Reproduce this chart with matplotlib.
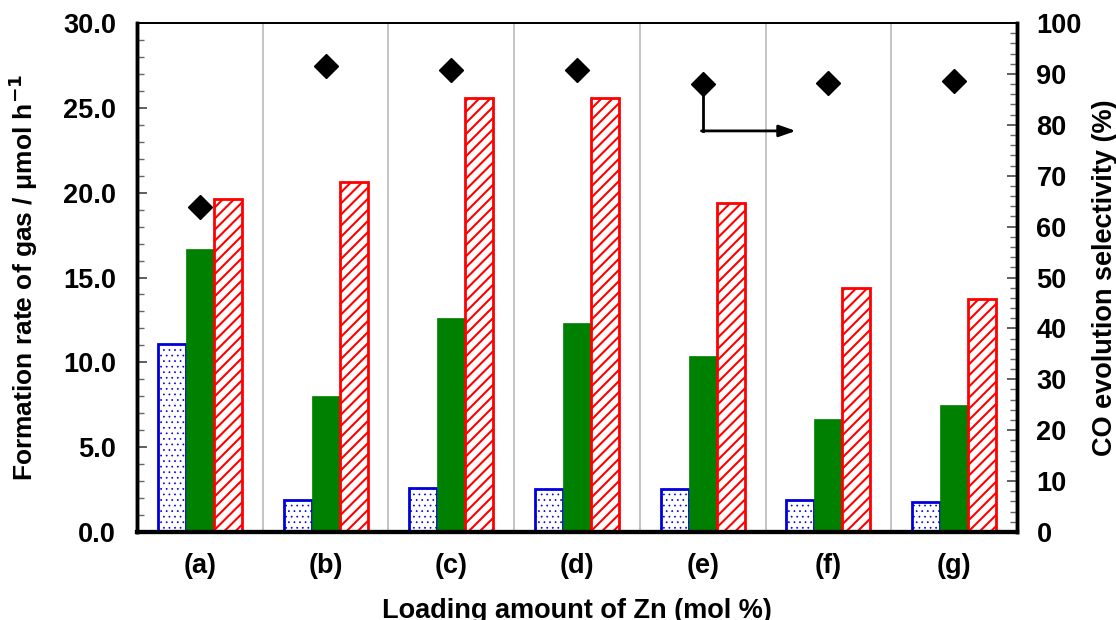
import matplotlib
matplotlib.use("Agg")
import matplotlib.pyplot as plt
from matplotlib.ticker import MultipleLocator, FormatStrFormatter
import numpy as np

plt.rcParams['font.family'] = ['Liberation Sans', 'DejaVu Sans']
plt.rcParams['font.weight'] = 'bold'

categories = ['(a)', '(b)', '(c)', '(d)', '(e)', '(f)', '(g)']
h2_rate = [11.1, 1.9, 2.6, 2.55, 2.55, 1.9, 1.75]
co_rate = [16.7, 8.0, 12.6, 12.3, 10.4, 6.65, 7.5]
o2_rate = [19.65, 20.6, 25.6, 25.6, 19.4, 14.4, 13.75]
co_selectivity = [63.9, 91.6, 90.7, 90.7, 88.1, 88.3, 88.7]

fig = plt.figure(figsize=(11.16, 6.2), dpi=100)
ax = fig.add_axes([0.1228, 0.1419, 0.7885, 0.8210])
ax2 = ax.twinx()

x = np.arange(len(categories))
w = 0.223


def set_hatch_width(bars, lw):
    for p in bars:
        if hasattr(p, 'set_hatch_linewidth'):
            p.set_hatch_linewidth(lw)


# group separators
for xs in np.arange(0.5, len(categories) - 0.5, 1.0):
    ax.axvline(xs, color='#b4b4b4', lw=1.1, zorder=0)

with plt.rc_context({'hatch.linewidth': 0.5}):
    b_h2 = ax.bar(x - w, h2_rate, width=w, facecolor='white', edgecolor='#0000dd',
                  hatch='...', linewidth=2.0, zorder=2)
set_hatch_width(b_h2, 0.5)

ax.bar(x, co_rate, width=w, facecolor='#008000', edgecolor='#008000',
       linewidth=0.5, zorder=2)

with plt.rc_context({'hatch.linewidth': 1.5}):
    b_o2 = ax.bar(x + w, o2_rate, width=w, facecolor='white', edgecolor='#ff0000',
                  hatch='///', linewidth=2.0, zorder=2)
set_hatch_width(b_o2, 1.5)

ax.set_xlim(-0.5, len(categories) - 0.5)
ax.set_ylim(0, 30)
ax.yaxis.set_major_locator(MultipleLocator(5))
ax.yaxis.set_minor_locator(MultipleLocator(1))
ax.yaxis.set_major_formatter(FormatStrFormatter('%.1f'))
ax.set_xticks(x)
ax.set_xticklabels(categories)
ax.tick_params(axis='x', length=0, pad=15, labelsize=19.5)
ax.tick_params(axis='y', which='major', direction='in', length=7, width=1.2,
               labelsize=19.5, pad=15, color='#444444')
ax.tick_params(axis='y', which='minor', direction='in', length=5, width=1.0,
               color='#666666')
ax.set_ylabel('Formation rate of gas / μmol h$^{\\mathbf{-1}}$', fontsize=19,
              fontweight='bold', labelpad=17)
ax.set_xlabel('Loading amount of Zn (mol %)', fontsize=19.5, fontweight='bold',
              labelpad=14)

ax2.plot(x, co_selectivity, linestyle='none', marker='D', markersize=12,
         color='black', zorder=5)
ax2.set_ylim(0, 100)
ax2.yaxis.set_major_locator(MultipleLocator(10))
ax2.yaxis.set_minor_locator(MultipleLocator(2))
ax2.tick_params(axis='y', which='major', direction='in', length=7, width=1.2,
                labelsize=19.5, pad=14, color='#444444')
ax2.tick_params(axis='y', which='minor', direction='in', length=5, width=1.0,
                color='#666666')
ax2.set_ylabel('CO evolution selectivity (%)', fontsize=19.5, fontweight='bold',
               labelpad=7)

# arrow pointing to the right-hand axis
ax2.plot([4, 4], [co_selectivity[4], 78.8], color='black', lw=2, zorder=4)
ax2.annotate('', xy=(4.74, 78.8), xytext=(3.99, 78.8),
             arrowprops=dict(arrowstyle='-|>,head_length=1.0,head_width=0.35',
                             color='black', lw=2, shrinkA=0, shrinkB=0))

for a in (ax, ax2):
    a.spines['left'].set_linewidth(2.5)
    a.spines['right'].set_linewidth(2.5)
    a.spines['bottom'].set_linewidth(3)
    a.spines['top'].set_linewidth(1.3)

fig.savefig('out.png', dpi=100)
